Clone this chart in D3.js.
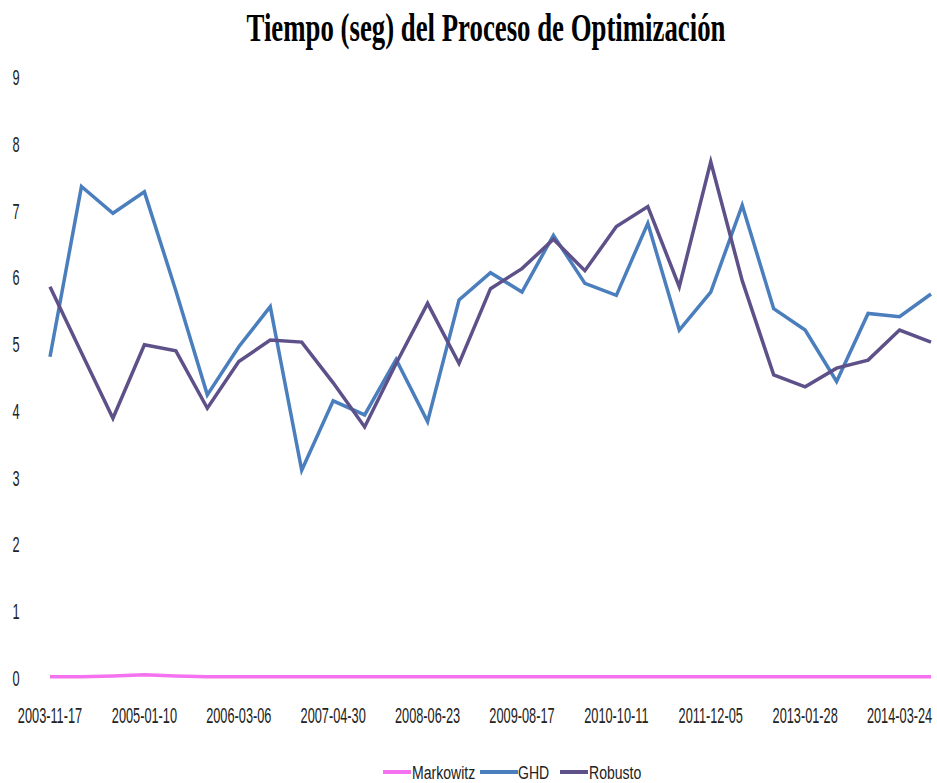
<!DOCTYPE html>
<html>
<head>
<meta charset="utf-8">
<script src="https://cdn.jsdelivr.net/npm/d3@7"></script>
<style>
  body { margin: 0; background: #fff; }
  text { font-family: "Liberation Sans", Arial, sans-serif; fill: #222; }
</style>
</head>
<body>
<svg></svg>
<script>
// fechas cada 20 semanas
const fechas = [
  "2003-11-17","2004-04-05","2004-08-23","2005-01-10","2005-05-30","2005-10-17",
  "2006-03-06","2006-07-24","2006-12-11","2007-04-30","2007-09-17","2008-02-04",
  "2008-06-23","2008-11-10","2009-03-30","2009-08-17","2010-01-04","2010-05-24",
  "2010-10-11","2011-02-28","2011-07-18","2011-12-05","2012-04-23","2012-09-10",
  "2013-01-28","2013-06-17","2013-11-04","2014-03-24","2014-08-11"
];
const markowitz = [0.02,0.02,0.03,0.05,0.03,0.02,0.02,0.02,0.02,0.02,0.02,0.02,0.02,0.02,0.02,
  0.02,0.02,0.02,0.02,0.02,0.02,0.02,0.02,0.02,0.02,0.02,0.02,0.02,0.02];
const ghd = [4.81,7.36,6.96,7.28,5.8,4.24,4.96,5.56,3.11,4.15,3.94,4.77,3.84,5.66,6.07,
  5.78,6.63,5.91,5.73,6.81,5.21,5.78,7.08,5.53,5.21,4.44,5.46,5.41,5.75];
const robusto = [5.86,4.87,3.89,4.99,4.9,4.04,4.74,5.06,5.03,4.42,3.76,4.71,5.61,4.71,5.83,
  6.13,6.57,6.1,6.76,7.06,5.86,7.73,5.95,4.54,4.36,4.64,4.76,5.21,5.03];
const yTicks = [0,1,2,3,4,5,6,7,8,9];
const xTickIdx = [0,3,6,9,12,15,18,21,24,27];

const series = [
  {name: "Markowitz", values: markowitz, color: "#f472ef"},
  {name: "GHD", values: ghd, color: "#4a7ebd"},
  {name: "Robusto", values: robusto, color: "#5e5088"}
];

const W = 937, H = 783;
const svg = d3.select('svg').attr('width', W).attr('height', H);

const x = d3.scalePoint().domain(d3.range(fechas.length)).range([50, 931]);
const y = d3.scaleLinear().domain([0, 9]).range([678, 77]);

// narrow text: place with translate, squeeze with scale
function place(sel, fx, fy, k) {
  sel.attr('transform', (d, i) => `translate(${fx(d, i)},${fy(d, i)}) scale(${k},1)`);
}

// title
svg.append('text')
    .text("Tiempo (seg) del Proceso de Optimización")
    .attr('text-anchor', 'middle')
    .style('font-family', '"Liberation Serif", "Times New Roman", serif')
    .style('font-weight', 'bold')
    .style('font-size', '40px')
    .style('fill', '#000')
    .call(place, () => 486, () => 41, 0.67);

// y axis labels
svg.append('g').selectAll('text')
    .data(yTicks)
    .join('text')
    .text(d => d)
    .attr('text-anchor', 'middle')
    .style('font-size', '22px')
    .call(place, () => 16, d => y(d) + 8, 0.58);

// x axis labels
svg.append('g').selectAll('text')
    .data(xTickIdx)
    .join('text')
    .text(i => fechas[i])
    .attr('text-anchor', 'middle')
    .style('font-size', '22px')
    .call(place, i => x(i), () => 723, 0.58);

// lines
const line = d3.line()
    .x((d, i) => x(i))
    .y(d => y(d));

svg.append('g').selectAll('path')
    .data(series)
    .join('path')
    .attr('d', s => line(s.values))
    .attr('fill', 'none')
    .attr('stroke', s => s.color)
    .attr('stroke-width', 3.5)
    .attr('stroke-linejoin', 'miter');

// legend
const legX = [383, 480, 560];
const leg = svg.append('g').selectAll('g')
    .data(series)
    .join('g')
    .attr('transform', (s, i) => `translate(${legX[i]},772)`);

leg.append('line')
    .attr('x1', 0)
    .attr('x2', (s, i) => i == 1 ? 38 : 28)
    .attr('y1', 0)
    .attr('y2', 0)
    .attr('stroke', s => s.color)
    .attr('stroke-width', 4);

leg.append('text')
    .text(s => s.name)
    .style('font-size', '19px')
    .call(place, (s, i) => i == 1 ? 38 : 29, () => 7, 0.74);
</script>
</body>
</html>
